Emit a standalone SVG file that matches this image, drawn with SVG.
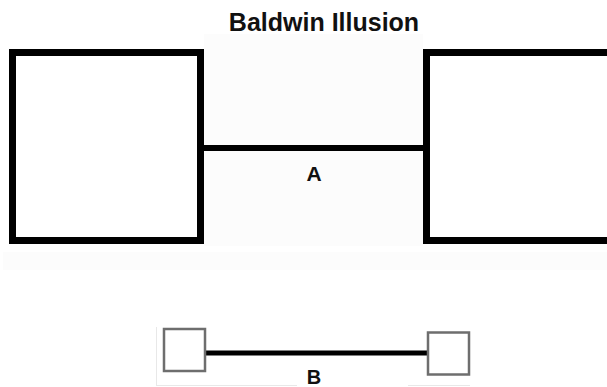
<svg xmlns="http://www.w3.org/2000/svg" width="607" height="387" viewBox="0 0 607 387">
  <style>
    .big { fill: #ffffff; stroke: #000000; stroke-width: 7; }
    .small { fill: #ffffff; stroke: #6e6e6e; stroke-width: 2.5; }
    .conn { stroke: #000000; fill: none; }
    .lbl { font-family: "Liberation Sans", Arial, sans-serif; font-weight: bold; fill: #111111; text-anchor: middle; }
    .faint { stroke: #e8e8e8; stroke-width: 1; fill: none; }
  </style>
  <rect x="0" y="0" width="607" height="387" fill="#ffffff"/>
  <rect x="204" y="34" width="219" height="212" fill="#fcfcfc"/>
  <rect x="3" y="252" width="604" height="18" fill="#fcfcfc"/>
  <g id="faint-guides">
    <line class="faint" x1="156.5" y1="327" x2="156.5" y2="385"/>
    <line class="faint" x1="156" y1="385.5" x2="297" y2="385.5"/>
    <line class="faint" x1="408" y1="385.5" x2="470" y2="385.5"/>
  </g>
  <text id="title" class="lbl" x="324" y="31" font-size="25">Baldwin Illusion</text>
  <g id="connectors">
    <line id="connector-A" class="conn" x1="203" y1="148" x2="424" y2="148" stroke-width="6"/>
    <text class="lbl" x="314" y="181" font-size="21">A</text>
    <line id="connector-B" class="conn" x1="205" y1="353" x2="428" y2="353" stroke-width="5"/>
    <text class="lbl" x="314" y="384" font-size="20">B</text>
  </g>
  <g id="box-left-large">
    <rect class="big" x="12.5" y="52.5" width="188" height="188"/>
  </g>
  <g id="box-right-large">
    <rect class="big" x="426.5" y="52.5" width="200" height="188"/>
  </g>
  <g id="box-left-small">
    <rect class="small" x="164" y="329" width="41" height="42"/>
  </g>
  <g id="box-right-small">
    <rect class="small" x="428" y="332.5" width="41" height="42"/>
  </g>
</svg>
